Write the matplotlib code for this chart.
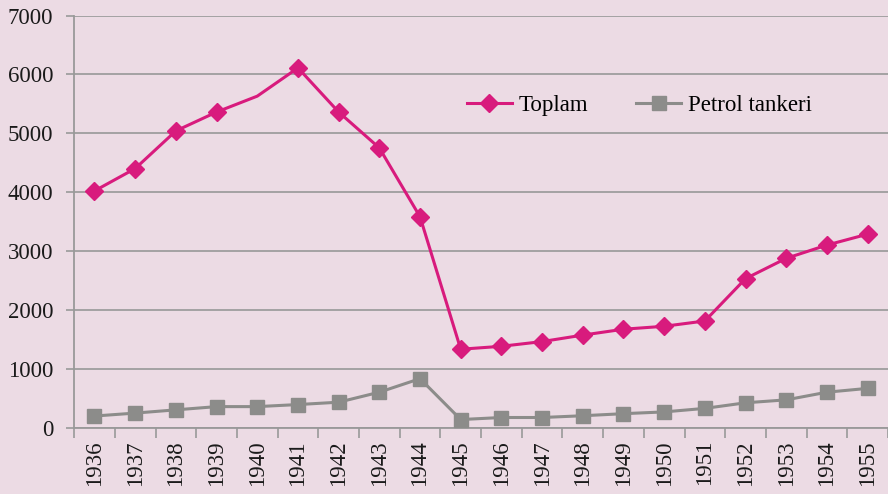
import matplotlib
matplotlib.use("Agg")
import matplotlib.pyplot as plt
import numpy as np

years = [str(y) for y in range(1936, 1956)]
toplam = [4020, 4400, 5040, 5360, 5630, 6110, 5360, 4750, 3580, 1330,
          1380, 1460, 1570, 1670, 1720, 1810, 2530, 2875, 3100, 3285]
petrol = [195, 245, 300, 355, 355, 390, 430, 600, 830, 135,
          170, 170, 200, 235, 265, 325, 420, 470, 600, 665]
yticks = [0, 1000, 2000, 3000, 4000, 5000, 6000, 7000]

bg = "#ECDBE4"
plt.rcParams['font.family'] = ['Liberation Serif', 'DejaVu Serif']

fig = plt.figure(figsize=(8.88, 4.94), dpi=100, facecolor=bg)
ax = fig.add_axes([0.0835, 0.1346, 0.9165, 0.834], facecolor=bg)

x = np.arange(len(years))
marks = [i for i in range(len(years)) if i != 4]
ax.plot(x, toplam, color="#D81B7D", lw=2.2, marker="D", markersize=9,
        markevery=marks, label="Toplam", zorder=3)
ax.plot(x, petrol, color="#8C8C8A", lw=2.2, marker="s", markersize=9.5,
        label="Petrol tankeri", zorder=3)

ax.set_xlim(-0.5, len(years) - 0.5)
ax.set_ylim(0, 7000)
ax.set_yticks(yticks)
ax.set_yticklabels([str(v) for v in yticks], fontsize=16.5, color="#1a1a1a")
ax.set_xticks(x)
ax.set_xticklabels(years, rotation=90, fontsize=16.5, color="#1a1a1a")
ax.set_xticks(np.arange(-0.5, len(years)), minor=True)
ax.tick_params(axis='x', which='major', length=0, pad=9)
ax.tick_params(axis='x', which='minor', length=7, color="#999999", width=1.2)
ax.tick_params(axis='y', length=6, color="#999999", width=1.2, pad=9)

ax.yaxis.grid(True, color="#9E9E9E", lw=1.3)
ax.set_axisbelow(True)
for s in ['top', 'right']:
    ax.spines[s].set_visible(False)
for s in ['left', 'bottom']:
    ax.spines[s].set_color("#999999")
    ax.spines[s].set_linewidth(1.3)

fig.legend(loc='center', bbox_to_anchor=(0.72, 0.787), ncol=2, frameon=False,
           fontsize=16.5, handlelength=1.95, columnspacing=2.1, handletextpad=0.3)

fig.savefig("out.png", dpi=100, facecolor=bg)
